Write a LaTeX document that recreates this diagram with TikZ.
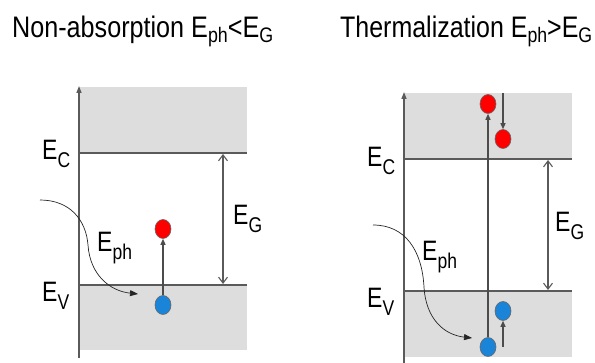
\documentclass[tikz,border=0pt]{standalone}
\usepackage{fontspec}
\setmainfont{Liberation Sans}
\usetikzlibrary{arrows.meta,shapes.geometric}
\definecolor{bandgray}{HTML}{DDDDDD}
\definecolor{linegray}{HTML}{5A5A5A}
\definecolor{eblue}{HTML}{1A84D8}
\definecolor{ered}{HTML}{FF0000}
\newcommand{\lblE}[1]{\scalebox{1}[1.22]{\fontsize{23}{23}\selectfont E\raisebox{-6.5pt}{\fontsize{17.5}{17.5}\selectfont #1}}}
\newcommand{\ttlsub}[1]{\raisebox{-3.5pt}{\fontsize{17}{17}\selectfont #1}}
\newcommand{\ttl}[2]{\resizebox{#1}{21.5pt}{\fontsize{24}{24}\selectfont #2}}
\begin{document}
\begin{tikzpicture}[x=1pt,y=-1pt,
  band/.style={fill=bandgray,draw=none},
  level/.style={draw=linegray,line width=1.4pt},
  axisline/.style={draw=linegray,line width=1.3pt,-{Triangle[length=7pt,width=5pt]}},
  gaparrow/.style={draw=linegray,line width=1.1pt,{Straight Barb[length=6pt,width=9pt]}-{Straight Barb[length=6pt,width=9pt]}},
  jump/.style={draw=linegray,line width=1.1pt,-{Triangle[length=6pt,width=5pt]},black!70},
  photon/.style={draw=black!85,line width=0.7pt,-{Triangle[length=8pt,width=6pt]}},
  electron/.style={ellipse,fill=ered,draw=black!60,line width=0.6pt,minimum width=16pt,minimum height=19pt,inner sep=0pt},
  hole/.style={ellipse,fill=eblue,draw=black!60,line width=0.6pt,minimum width=16pt,minimum height=19pt,inner sep=0pt},
  lbl/.style={anchor=base west,inner sep=0pt}
]
\useasboundingbox (0,0) rectangle (595,363);
% titles
\node[lbl] (t1) at (12,38) {\ttl{261pt}{Non-absorption E\ttlsub{ph}<E\ttlsub{G}}};
\node[lbl] (t2) at (340,38) {\ttl{252pt}{Thermalization E\ttlsub{ph}>E\ttlsub{G}}};

% ---------- left panel ----------
\fill[band] (79,87) rectangle (247,153);
\fill[band] (79,285) rectangle (247,350);
\draw[level] (79,153) -- (247,153);
\draw[level] (79,285) -- (247,285);
\coordinate (la0) at (79,358);
\coordinate (la1) at (79,86);
\draw[axisline] (la0) -- (la1);
\coordinate (lg1) at (223,154);
\coordinate (lg2) at (223,284);
\draw[gaparrow] (lg1) -- (lg2);
\node[lbl] (lEc) at (42,160) {\lblE{C}};
\node[lbl] (lEv) at (42,302) {\lblE{V}};
\node[lbl] (lEg) at (233,225) {\lblE{G}};
\node[lbl] (lEph) at (97,252) {\lblE{ph}};
\node[electron] (lr) at (163,229) {};
\node[hole] (lb) at (163,305) {};
\draw[jump] (lb) -- (lr);
\coordinate (lp0) at (40,200);
\coordinate (lp1) at (138,294);
\draw[photon] (lp0) .. controls (70,200) and (86,220) .. (88,245) .. controls (90,275) and (110,291) .. (lp1);

% ---------- right panel ----------
\fill[band] (404,93) rectangle (572,159);
\fill[band] (404,291) rectangle (572,357);
\draw[level] (404,159) -- (572,159);
\draw[level] (404,291) -- (572,291);
\coordinate (ra0) at (404,363);
\coordinate (ra1) at (404,92);
\draw[axisline] (ra0) -- (ra1);
\coordinate (rg1) at (548,160);
\coordinate (rg2) at (548,290);
\draw[gaparrow] (rg1) -- (rg2);
\node[lbl] (rEc) at (367,167) {\lblE{C}};
\node[lbl] (rEv) at (367,308) {\lblE{V}};
\node[lbl] (rEg) at (555,232) {\lblE{G}};
\node[lbl] (rEph) at (422,261) {\lblE{ph}};
\node[electron] (rr1) at (488,104) {};
\node[electron] (rr2) at (503,139) {};
\node[hole] (rb1) at (488,347) {};
\node[hole] (rb2) at (503,311) {};
\draw[jump] (rb1) -- (rr1);
\coordinate (rd0) at (503,93);
\draw[jump] (rd0) -- (rr2);
\coordinate (ru0) at (503,347);
\draw[jump] (ru0) -- (rb2);
\coordinate (rp0) at (373,225);
\coordinate (rp1) at (472,338);
\draw[photon] (rp0) .. controls (405,225) and (422,250) .. (424,287) .. controls (426,320) and (445,335) .. (rp1);
\end{tikzpicture}
\end{document}
